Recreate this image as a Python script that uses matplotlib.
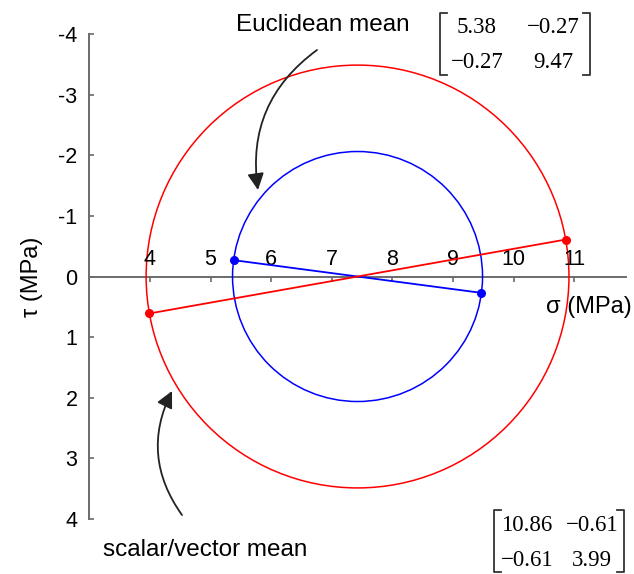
import numpy as np
import matplotlib
matplotlib.use("Agg")
import matplotlib.pyplot as plt
from matplotlib.patches import Circle
from matplotlib.lines import Line2D

# stress tensors [[sxx, txy], [txy, syy]] (MPa)
euclid_mean = [[5.38, -0.27], [-0.27, 9.47]]
scalar_mean = [[10.86, -0.61], [-0.61, 3.99]]

x_ticks = [4, 5, 6, 7, 8, 9, 10, 11]
y_ticks = [-4, -3, -2, -1, 0, 1, 2, 3, 4]
y_tick_labels = ["-4", "-3", "-2", "-1", "0", "1", "2", "3", "4"]

W, H = 634, 574
plt.rcParams['font.family'] = ['Liberation Sans', 'DejaVu Sans']

fig = plt.figure(figsize=(W / 100, H / 100), dpi=100)
ax = fig.add_axes([0, 0, 1, 1])
ax.set_xlim(1.525, 11.987)
ax.set_ylim(4.909, -4.563)
ax.patch.set_visible(False)

def fp(x, y):
    # pixel position from top-left -> figure fraction
    return (x / W, 1 - y / H)


def mohr(m, color):
    sxx, txy, syy = m[0][0], m[0][1], m[1][1]
    c = (sxx + syy) / 2
    r = np.hypot((sxx - syy) / 2, txy)
    ax.add_patch(Circle((c, 0), r, fill=False, ec=color, lw=1.1, zorder=3))
    ax.plot([sxx, syy], [txy, -txy], color=color, lw=1.3, marker='o',
            ms=5.5, zorder=4)


mohr(euclid_mean, '#0000ff')
mohr(scalar_mean, '#ff0000')

axis_col = '#6b6b6b'
for s in ['top', 'right']:
    ax.spines[s].set_visible(False)
ax.spines['left'].set_position(('data', 3))
ax.spines['left'].set_bounds(-4, 4)
ax.spines['bottom'].set_position(('data', 0))
ax.spines['bottom'].set_bounds(3, 11.85)
for s in ['left', 'bottom']:
    ax.spines[s].set_color(axis_col)
    ax.spines[s].set_linewidth(1.4)

ax.set_yticks(y_ticks, y_tick_labels)
ax.tick_params(axis='y', direction='in', length=3.6, width=1.2,
               color=axis_col, pad=8.5, labelsize=15.5)
ax.set_xticks(x_ticks, [''] * len(x_ticks))
ax.tick_params(axis='x', direction='out', length=3.6, width=1.2,
               color=axis_col)
for v in x_ticks:
    ax.annotate(str(v), (v, 0), xytext=(0, 8.6), textcoords='offset points',
                ha='center', va='baseline', fontsize=15.5)

fig.text(*fp(32, 277), u"\u03c4 (MPa)", rotation=90, ha='center',
         va='center', fontsize=17)
fig.text(*fp(589, 307), u"\u03c3 (MPa)", ha='center', va='center',
         fontsize=17)
fig.text(*fp(323, 31), "Euclidean mean", ha='center', va='baseline',
         fontsize=17.5)
fig.text(*fp(205, 556), "scalar/vector mean", ha='center', va='baseline',
         fontsize=17.5)

arrow_kw = dict(arrowstyle='-|>', color='#222222', lw=1.3,
                mutation_scale=25, shrinkA=0, shrinkB=0)
ax.annotate('', xy=fp(258, 190), xycoords='figure fraction',
            xytext=fp(317, 50), textcoords='figure fraction',
            arrowprops=dict(connectionstyle='arc3,rad=0.3', **arrow_kw))
ax.annotate('', xy=fp(172, 391), xycoords='figure fraction',
            xytext=fp(182, 515), textcoords='figure fraction',
            arrowprops=dict(connectionstyle='arc3,rad=-0.3', **arrow_kw))


def matrix(m, left, right, top, bottom, cols, rows):
    for x, sgn in [(left, 1), (right, -1)]:
        xs = [x + 7 * sgn, x, x, x + 7 * sgn]
        ys = [top, top, bottom, bottom]
        fig.add_artist(Line2D([xx / W for xx in xs], [1 - yy / H for yy in ys],
                              color='#333333', lw=1.3))
    for i in range(2):
        for j in range(2):
            s = "%.2f" % m[i][j]
            s = s.replace('-', u'\u2212')
            fig.text(*fp(cols[j], rows[i]), s, ha='center', va='baseline',
                     fontsize=16.5, family='Liberation Serif')


matrix(euclid_mean, 440, 590, 13, 75, [477, 553], [33, 68])
matrix(scalar_mean, 494, 624, 510, 572, [527, 592], [531, 566])

fig.savefig("out.png", dpi=100)
